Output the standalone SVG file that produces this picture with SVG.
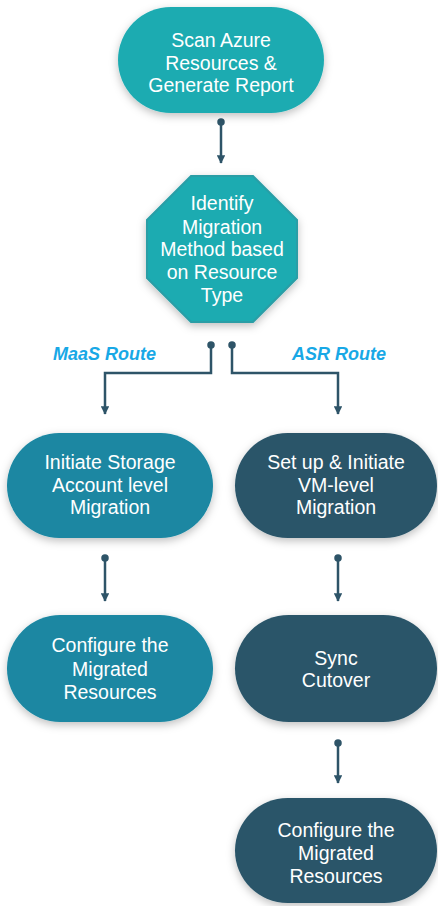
<svg xmlns="http://www.w3.org/2000/svg" width="438" height="906" viewBox="0 0 438 906">
<defs>
<filter id="sh" x="-20%" y="-20%" width="140%" height="150%">
<feDropShadow dx="0" dy="3" stdDeviation="4" flood-color="#000" flood-opacity="0.25"/>
</filter>
<marker id="arr" viewBox="0 0 10 10" refX="9" refY="5" markerWidth="3.4" markerHeight="3.4" orient="auto" markerUnits="strokeWidth">
<path d="M0,0 L10,5 L0,10 Z" fill="#2e5468"/>
</marker>
<marker id="dot" viewBox="0 0 10 10" refX="5" refY="5" markerWidth="3" markerHeight="3" markerUnits="strokeWidth">
<circle cx="5" cy="5" r="5" fill="#2e5468"/>
</marker>
</defs>
<style>
.t{font-family:"Liberation Sans",Arial,sans-serif;font-size:19.5px;fill:#fff;text-anchor:middle}
.r{font-family:"Liberation Sans",Arial,sans-serif;font-size:18px;font-weight:bold;font-style:italic;fill:#18a8e6}
.c{fill:none;stroke:#2e5468;stroke-width:2.5;marker-start:url(#dot);marker-end:url(#arr)}
.teal{fill:#1cabb1}
.blue{fill:#1a87a2}
.dark{fill:#2a5569}
</style>
<rect width="438" height="906" fill="#fff"/>
<g id="connectors">
<path class="c" d="M221,122 V163"/>
<path class="c" d="M211,345 V373 H105 V414"/>
<path class="c" d="M232,345 V373 H338 V414"/>
<path class="c" d="M105,558 V601"/>
<path class="c" d="M338,558 V601"/>
<path class="c" d="M338,743 V783"/>
</g>
<g id="scan">
<rect class="teal" x="118" y="7" width="206" height="106" rx="53" filter="url(#sh)"/>
<text class="t" x="221" y="47">Scan Azure</text>
<text class="t" x="221" y="69.5">Resources &amp;</text>
<text class="t" x="221" y="92">Generate Report</text>
</g>
<g id="identify">
<polygon class="teal" points="191,176 253,176 297,220 297,278 253,322 191,322 147,278 147,220" stroke="#2a9ea6" stroke-width="2" filter="url(#sh)"/>
<text class="t" x="222" y="210">Identify</text>
<text class="t" x="222" y="233.5">Migration</text>
<text class="t" x="222" y="256">Method based</text>
<text class="t" x="222" y="279">on Resource</text>
<text class="t" x="222" y="302">Type</text>
</g>
<g id="labels">
<text class="r" x="53" y="360">MaaS Route</text>
<text class="r" x="292" y="360">ASR Route</text>
</g>
<g id="storage">
<rect class="blue" x="7" y="433" width="206" height="105" rx="52.5" filter="url(#sh)"/>
<text class="t" x="110" y="469">Initiate Storage</text>
<text class="t" x="110" y="492">Account level</text>
<text class="t" x="110" y="514">Migration</text>
</g>
<g id="vm">
<rect class="dark" x="235" y="433" width="202" height="105" rx="52.5" filter="url(#sh)"/>
<text class="t" x="336" y="469">Set up &amp; Initiate</text>
<text class="t" x="336" y="492">VM-level</text>
<text class="t" x="336" y="514">Migration</text>
</g>
<g id="configure-left">
<rect class="blue" x="7" y="615" width="206" height="107" rx="53.5" filter="url(#sh)"/>
<text class="t" x="110" y="652">Configure the</text>
<text class="t" x="110" y="676">Migrated</text>
<text class="t" x="110" y="699">Resources</text>
</g>
<g id="sync">
<rect class="dark" x="235" y="615" width="202" height="107" rx="53.5" filter="url(#sh)"/>
<text class="t" x="336" y="665">Sync</text>
<text class="t" x="336" y="687">Cutover</text>
</g>
<g id="configure-right">
<rect class="dark" x="235" y="798" width="202" height="105" rx="52.5" filter="url(#sh)"/>
<text class="t" x="336" y="837">Configure the</text>
<text class="t" x="336" y="860">Migrated</text>
<text class="t" x="336" y="883">Resources</text>
</g>
</svg>
